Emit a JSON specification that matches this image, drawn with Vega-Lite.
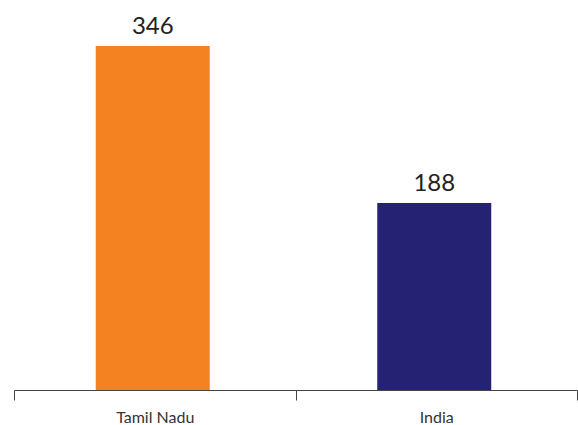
{
  "$schema": "https://vega.github.io/schema/vega-lite/v6.json",
  "width": 563,
  "height": 345,
  "autosize": {"type": "none"},
  "padding": {"left": 14, "top": 45, "right": 1, "bottom": 35},
  "background": "white",
  "config": {"view": {"stroke": null}, "font": "Lato"},
  "data": {"values": [
    {"region": "Tamil Nadu", "value": 346},
    {"region": "India", "value": 188}
  ]},
  "encoding": {
    "x": {"field": "region", "type": "nominal", "sort": null,
      "scale": {"paddingInner": 0, "paddingOuter": 0},
      "axis": {"title": null, "labelAngle": 0, "tickBand": "extent", "tickSize": 10,
        "domainColor": "#444", "tickColor": "#444", "labelColor": "#333",
        "labelFontSize": 16, "labelPadding": 9, "labelFont": "Lato"}},
    "y": {"field": "value", "type": "quantitative",
      "scale": {"domain": [0, 347], "nice": false},
      "axis": null}
  },
  "layer": [
    {"mark": {"type": "bar", "width": {"band": 0.405}, "xOffset": -2},
     "encoding": {"color": {"field": "region", "type": "nominal", "legend": null,
       "scale": {"domain": ["Tamil Nadu", "India"], "range": ["#F48221", "#252274"]}}}},
    {"mark": {"type": "text", "baseline": "alphabetic", "dy": -12, "dx": -2, "fontSize": 24, "color": "#222", "font": "Lato"},
     "encoding": {"text": {"field": "value", "type": "quantitative"}}}
  ]
}
